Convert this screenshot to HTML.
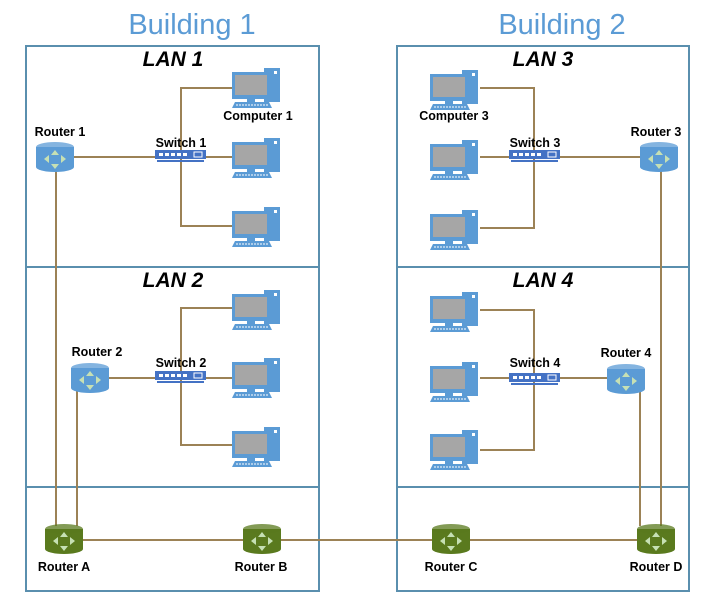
<!DOCTYPE html>
<html><head><meta charset="utf-8"><style>
body{margin:0;background:#fff;}
svg text{font-family:"Liberation Sans",sans-serif;}
</style></head><body>
<svg width="701" height="601" viewBox="0 0 701 601" xmlns="http://www.w3.org/2000/svg">
<defs>
<g id="pc">
 <rect x="32" y="0" width="16" height="34" fill="#5b9bd5"/>
 <rect x="42" y="3" width="3" height="3" fill="#fff"/>
 <rect x="0" y="4" width="38" height="27" fill="#5b9bd5"/>
 <rect x="3" y="7" width="32" height="20" fill="#a6a6a6"/>
 <rect x="15" y="31" width="8" height="3" fill="#5b9bd5"/>
 <polygon points="3,34 37,34 40,40 0,40" fill="#5b9bd5"/>
 <line x1="4" y1="37" x2="36" y2="37" stroke="#fff" stroke-width="1" stroke-dasharray="2,1"/>
</g>
<g id="sw">
 <rect x="0" y="0" width="51" height="9" fill="#4472c4"/>
 <rect x="2" y="10" width="47" height="2" fill="#4472c4"/>
 <g fill="#fff"><rect x="4" y="3" width="4" height="3"/><rect x="10" y="3" width="4" height="3"/><rect x="16" y="3" width="4" height="3"/><rect x="22" y="3" width="4" height="3"/><rect x="28" y="3" width="4" height="3"/></g>
 <rect x="39" y="2" width="8" height="5" fill="none" stroke="#fff" stroke-width="1"/>
</g>
<g id="rt">
 <path d="M0,5 L0,25 A19,5 0 0 0 38,25 L38,5 Z"/>
 <ellipse cx="19" cy="5" rx="19" ry="5" fill-opacity="0.75"/>
 <g fill="#c6e0b4"><polygon points="19,8 15,13 23,13"/><polygon points="19,27 15,22 23,22"/><polygon points="8,17 13,13 13,21"/><polygon points="30,17 25,13 25,21"/></g>
</g>
</defs>
<text x="192" y="34" font-size="29" fill="#5b9bd5" text-anchor="middle">Building 1</text>
<text x="562" y="34" font-size="29" fill="#5b9bd5" text-anchor="middle">Building 2</text>
<g fill="none" stroke="#5a8fae" stroke-width="2">
<rect x="26" y="46" width="293" height="545"/>
<line x1="26" y1="267" x2="319" y2="267"/><line x1="26" y1="487" x2="319" y2="487"/>
<rect x="397" y="46" width="292" height="545"/>
<line x1="397" y1="267" x2="689" y2="267"/><line x1="397" y1="487" x2="689" y2="487"/>
</g>
<g font-size="21" font-weight="bold" font-style="italic" text-anchor="middle" fill="#000">
<text x="173" y="66">LAN 1</text><text x="543" y="66">LAN 3</text>
<text x="173" y="287">LAN 2</text><text x="543" y="287">LAN 4</text>
</g>
<g fill="none" stroke="#9c8256" stroke-width="2">
<path d="M232,88 H181 V226 H232 M181,157 H232 M56,157 H181"/>
<path d="M232,308 H181 V445 H232 M181,378 H232 M90,378 H181"/>
<path d="M480,88 H534 V228 H480 M480,157 H660"/>
<path d="M480,310 H534 V450 H480 M480,378 H625"/>
<line x1="56" y1="165" x2="56" y2="526"/><line x1="77" y1="390" x2="77" y2="526"/>
<line x1="640" y1="390" x2="640" y2="526"/><line x1="661" y1="165" x2="661" y2="526"/>
<line x1="64" y1="540" x2="656" y2="540"/>
</g>
<g>
<use href="#pc" x="232" y="68"/><use href="#pc" x="232" y="138"/><use href="#pc" x="232" y="207"/>
<use href="#pc" x="232" y="290"/><use href="#pc" x="232" y="358"/><use href="#pc" x="232" y="427"/>
<use href="#pc" x="430" y="70"/><use href="#pc" x="430" y="140"/><use href="#pc" x="430" y="210"/>
<use href="#pc" x="430" y="292"/><use href="#pc" x="430" y="362"/><use href="#pc" x="430" y="430"/>
<use href="#sw" x="155" y="150"/><use href="#sw" x="155" y="371"/>
<use href="#sw" x="509" y="150"/><use href="#sw" x="509" y="373"/>
<use href="#rt" x="36" y="142" fill="#5b9bd5"/><use href="#rt" x="71" y="363" fill="#5b9bd5"/>
<use href="#rt" x="640" y="142" fill="#5b9bd5"/><use href="#rt" x="607" y="364" fill="#5b9bd5"/>
<use href="#rt" x="45" y="524" fill="#5a7a1e"/><use href="#rt" x="243" y="524" fill="#5a7a1e"/>
<use href="#rt" x="432" y="524" fill="#5a7a1e"/><use href="#rt" x="637" y="524" fill="#5a7a1e"/>
</g>
<g font-size="12.5" font-weight="bold" fill="#000" text-anchor="middle">
<text x="258" y="120">Computer 1</text><text x="454" y="120">Computer 3</text>
<text x="60" y="136">Router 1</text><text x="181" y="147">Switch 1</text>
<text x="97" y="356">Router 2</text><text x="181" y="367">Switch 2</text>
<text x="535" y="147">Switch 3</text><text x="656" y="136">Router 3</text>
<text x="535" y="367">Switch 4</text><text x="626" y="357">Router 4</text>
<text x="64" y="571">Router A</text><text x="261" y="571">Router B</text>
<text x="451" y="571">Router C</text><text x="656" y="571">Router D</text>
</g>
</svg>
</body></html>
